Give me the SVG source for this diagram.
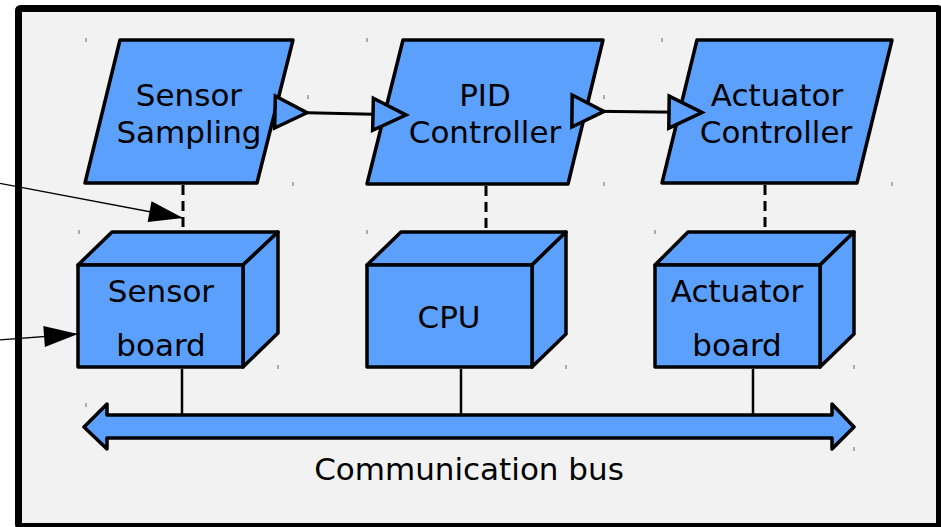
<svg xmlns="http://www.w3.org/2000/svg" width="941" height="527" viewBox="0 0 941 527">
  <style>
    .shape { fill: #5ba0fc; stroke: #000; stroke-width: 3.5; stroke-linejoin: round; }
    .label { font-family: "DejaVu Sans", "Liberation Sans", sans-serif; font-size: 31px; fill: #000; text-anchor: middle; }
    .dash { stroke: #000; stroke-width: 3; stroke-dasharray: 10 6; fill: none; }
    .link { stroke: #000; stroke-width: 2.5; fill: none; }
    .flow { stroke: #000; stroke-width: 3; fill: none; }
    .note { stroke: #000; stroke-width: 1.3; fill: none; }
    .tick { stroke: #666; stroke-width: 1; fill: none; }
  </style>
  <defs>
    <!-- flow triangles: one sits at the source, one at the target -->
    <marker id="flowStart" markerUnits="userSpaceOnUse" markerWidth="40" markerHeight="40" refX="0" refY="16" orient="auto" overflow="visible">
      <path d="M0,0 L32,16 L0,32 Z" fill="#5ba0fc" stroke="#000" stroke-width="3.5" stroke-linejoin="miter"/>
    </marker>
    <marker id="flowEnd" markerUnits="userSpaceOnUse" markerWidth="40" markerHeight="40" refX="33" refY="16" orient="auto" overflow="visible">
      <path d="M0,0 L33,16 L0,32 Z" fill="#5ba0fc" stroke="#000" stroke-width="3.5" stroke-linejoin="miter"/>
    </marker>
    <marker id="solidHead" markerUnits="userSpaceOnUse" markerWidth="36" markerHeight="24" refX="34" refY="10.5" orient="auto" overflow="visible">
      <path d="M0,0 L34,10.5 L0,21 Z" fill="#000"/>
    </marker>
  </defs>

  <!-- frame -->
  <rect id="frame" x="18.5" y="8.5" width="921" height="518" rx="2" fill="#f2f2f2" stroke="#000" stroke-width="7" stroke-linejoin="round"/>

  <!-- anchor marks -->
  <g id="marks" class="tick">
    <path d="M86,38v4M367,38v4M662,38v4M308,95v4M406,99v4M604,95v4M702,95v4M293,182v4M604,182v4M892,182v4M79,230v4M367,230v4M655,230v4M278,365v4M566,365v4M854,365v4M86,403v4M854,447v4"/>
  </g>

  <!-- software blocks -->
  <g id="sensor-sampling">
    <path class="shape" d="M120,40 L293,40 L257,183 L85,183 Z"/>
    <text class="label" x="189" y="106">Sensor</text>
    <text class="label" x="189" y="143">Sampling</text>
  </g>
  <g id="pid-controller">
    <path class="shape" d="M403,40 L603,40 L568,184 L367,184 Z"/>
    <text class="label" x="485" y="106">PID</text>
    <text class="label" x="485" y="143">Controller</text>
  </g>
  <g id="actuator-controller">
    <path class="shape" d="M697,40 L892,40 L857,183 L662,183 Z"/>
    <text class="label" x="777" y="106">Actuator</text>
    <text class="label" x="776" y="143">Controller</text>
  </g>

  <!-- hardware boxes -->
  <g id="sensor-board">
    <path class="shape" d="M78,265 L112,232 L278,232 L243,265 Z"/>
    <path class="shape" d="M243,265 L278,232 L278,333 L243,367 Z"/>
    <rect class="shape" x="78" y="265" width="165" height="102"/>
    <text class="label" x="161" y="302">Sensor</text>
    <text class="label" x="161" y="356">board</text>
  </g>
  <g id="cpu">
    <path class="shape" d="M367,265 L401,232 L566,232 L532,265 Z"/>
    <path class="shape" d="M532,265 L566,232 L566,334 L532,367 Z"/>
    <rect class="shape" x="367" y="265" width="165" height="102"/>
    <text class="label" x="449" y="328">CPU</text>
  </g>
  <g id="actuator-board">
    <path class="shape" d="M655,265 L688,232 L854,232 L820,265 Z"/>
    <path class="shape" d="M820,265 L854,232 L854,334 L820,367 Z"/>
    <rect class="shape" x="655" y="265" width="165" height="102"/>
    <text class="label" x="737" y="302">Actuator</text>
    <text class="label" x="737" y="356">board</text>
  </g>

  <!-- bus -->
  <g id="communication-bus">
    <path class="shape" d="M84,427 L107,404 L107,415 L832,415 L832,404 L854,427 L832,449 L832,438 L107,438 L107,449 Z"/>
    <text class="label" x="469" y="480">Communication bus</text>
  </g>

  <!-- connectors -->
  <g id="connectors">
    <path class="flow" d="M275,112 L406,115" marker-start="url(#flowStart)" marker-end="url(#flowEnd)"/>
    <path class="flow" d="M572,111 L702,112.5" marker-start="url(#flowStart)" marker-end="url(#flowEnd)"/>
    <path class="dash" d="M183,185 V232"/>
    <path class="dash" d="M486,186 V232"/>
    <path class="dash" d="M765,185 V232"/>
    <path class="link" d="M182,369 V414"/>
    <path class="link" d="M461,369 V414"/>
    <path class="link" d="M753,369 V414"/>
    <path class="note" d="M-2,183 L183,218" marker-end="url(#solidHead)"/>
    <path class="note" d="M-2,340 L78,334" marker-end="url(#solidHead)"/>
  </g>
</svg>
